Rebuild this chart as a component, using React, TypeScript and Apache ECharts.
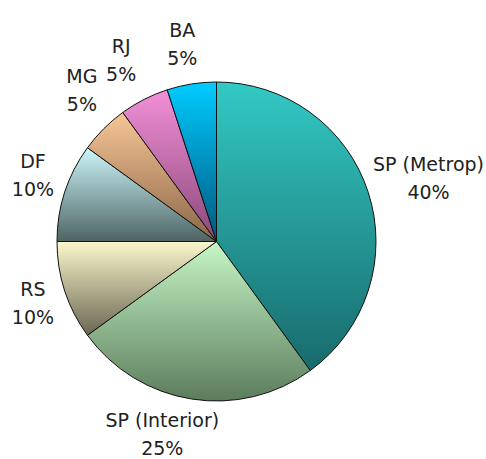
import React, { useEffect, useRef } from "react";
import * as echarts from "echarts";

const categories = ["SP (Metrop)", "SP (Interior)", "RS", "DF", "MG", "RJ", "BA"];
const values = [40, 25, 10, 10, 5, 5, 5];
const topColors = ["#33c9c4", "#c6f6c6", "#fbf7cc", "#ccf6f8", "#f8c696", "#f290d8", "#00ccff"];
const bottomColors = ["#186a6c", "#5c7c5c", "#6a6652", "#4e6464", "#8a6648", "#8a4878", "#00567e"];

// label layout nudges (pixels), layout only
const labelNudgeX = [0, -22, 5, 5, 7, -4, -3];
const labelNudgeY = [5, -11, 0, -5, -10, -2, 0];

const W = 486;
const H = 459;
const CX = 216.5;
const CY = 241.5;
const R = 159.5;
const GAP = 10;

export default function App() {
  const ref = useRef<HTMLDivElement>(null);
  useEffect(() => {
    if (!ref.current) return;
    const chart = echarts.init(ref.current, undefined, { renderer: "svg" });
    const total = values.reduce((a, b) => a + b, 0);
    const mids: number[] = [];
    let acc = 0;
    values.forEach((v) => {
      mids.push(((acc + v / 2) / total) * Math.PI * 2);
      acc += v;
    });
    chart.setOption({
      animation: false,
      backgroundColor: "#ffffff",
      series: [
        {
          type: "pie",
          center: [CX, CY],
          radius: R,
          startAngle: 90,
          clockwise: true,
          avoidLabelOverlap: false,
          data: categories.map((name, i) => ({
            name,
            value: values[i],
            itemStyle: {
              color: {
                type: "linear",
                x: 0,
                y: 0,
                x2: 0,
                y2: 1,
                colorStops: [
                  { offset: 0, color: topColors[i] },
                  { offset: 1, color: bottomColors[i] },
                ],
              },
            },
          })),
          itemStyle: { borderColor: "#111111", borderWidth: 1 },
          label: {
            show: true,
            position: "outside",
            formatter: "{b}\n{d}%",
            fontFamily: "DejaVu Sans",
            fontSize: 19,
            lineHeight: 28,
            color: "#222222",
            align: "center",
          },
          labelLine: { show: false },
          emphasis: { disabled: true },
          labelLayout: (params: any) => {
            const i = params.dataIndex;
            const a = mids[i];
            const dx = Math.sin(a);
            const dy = -Math.cos(a);
            const w = params.labelRect.width;
            const h = params.labelRect.height;
            const dist = R + GAP + Math.abs(dx) * w / 2 + Math.abs(dy) * h / 2;
            let x = CX + dx * dist;
            let y = CY + dy * dist;
            if (x + w / 2 > W - 2) {
              const d2 = (W - 2 - w / 2 - CX) / dx;
              x = CX + dx * d2;
              y = CY + dy * d2;
            }
            if (x - w / 2 < 2) {
              x = 2 + w / 2;
            }
            x += labelNudgeX[i];
            y += labelNudgeY[i];
            return { x, y, align: "center", verticalAlign: "middle" };
          },
        },
      ],
    });
    return () => chart.dispose();
  }, []);
  return (
    <div
      ref={ref}
      style={{ position: "fixed", left: 0, top: 0, width: W, height: H }}
    />
  );
}
